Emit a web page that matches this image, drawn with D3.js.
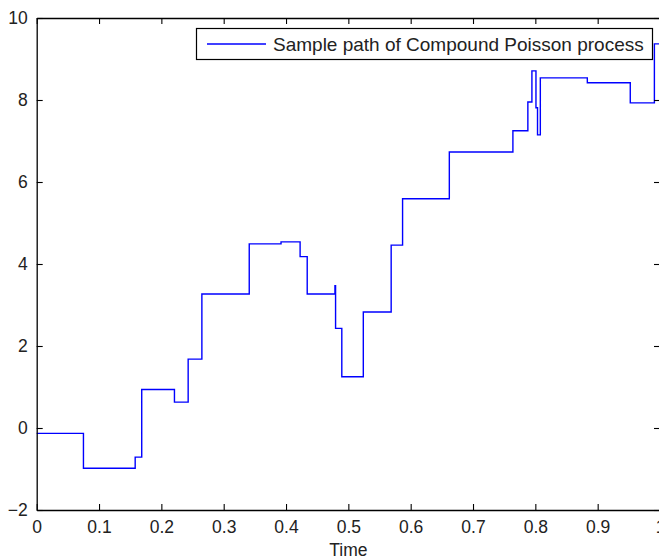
<!DOCTYPE html>
<html>
<head>
<meta charset="utf-8">
<script src="https://cdn.jsdelivr.net/npm/d3@7"></script>
<style>
  body { margin: 0; background: #fff; }
  svg { display: block; font-family: "Liberation Sans", Arial, sans-serif; }
</style>
</head>
<body>
<svg width="659" height="558"></svg>
<script>
// jump times and the level held from each one on
var times = [0, 0.075, 0.158, 0.1685, 0.221, 0.243, 0.265, 0.341, 0.392, 0.4226, 0.434,
  0.4785, 0.4795, 0.4895, 0.524, 0.5687, 0.587, 0.662, 0.764, 0.788, 0.7945, 0.801,
  0.8035, 0.808, 0.8834, 0.9523, 0.991, 1];
var values = [-0.13, -0.98, -0.71, 0.94, 0.63, 1.68, 3.27, 4.49, 4.54, 4.18, 3.27,
  3.47, 2.43, 1.25, 2.83, 4.46, 5.59, 6.73, 7.25, 7.95, 8.71, 7.81,
  7.15, 8.54, 8.42, 7.93, 9.37, 9.37];
var xTicks = [0, 0.1, 0.2, 0.3, 0.4, 0.5, 0.6, 0.7, 0.8, 0.9, 1];
var yTicks = [-2, 0, 2, 4, 6, 8, 10];
var seriesName = "Sample path of Compound Poisson process";

var svg = d3.select("svg");
// note: "top" is taken by window.top, so use plot* names
var plotL = 36.7, plotR = 660, plotT = 18, plotB = 510;

var x = d3.scaleLinear().domain([0, 1]).range([plotL, plotR]);
var y = d3.scaleLinear().domain([-2, 10]).range([plotB, plotT]);

var pts = times.map(function(t, i) { return [t, values[i]]; });

var line = d3.line()
    .x(function(d) { return x(d[0]); })
    .y(function(d) { return y(d[1]); })
    .curve(d3.curveStepAfter);

svg.append("path")
    .datum(pts)
    .attr("fill", "none")
    .attr("stroke", "#0000ff")
    .attr("stroke-width", 1.4)
    .attr("d", line);

// MATLAB style box with inward ticks
var g = svg.append("g");

g.append("g")
    .attr("transform", "translate(0," + plotB + ")")
    .call(d3.axisBottom(x).tickValues(xTicks).tickSizeInner(-6).tickSizeOuter(0)
      .tickPadding(11).tickFormat(d3.format("~g")));
g.append("g")
    .attr("transform", "translate(0," + plotT + ")")
    .call(d3.axisTop(x).tickValues(xTicks).tickSizeInner(-6).tickSizeOuter(0).tickFormat(""));
g.append("g")
    .attr("transform", "translate(" + plotL + ",0)")
    .call(d3.axisLeft(y).tickValues(yTicks).tickSizeInner(-6).tickSizeOuter(0).tickPadding(9));
g.append("g")
    .attr("transform", "translate(" + plotR + ",0)")
    .call(d3.axisRight(y).tickValues(yTicks).tickSizeInner(-6).tickSizeOuter(0).tickFormat(""));

g.selectAll(".domain").attr("stroke", "#000").attr("stroke-width", 1.3);
g.selectAll(".tick line").attr("stroke", "#000").attr("stroke-width", 1.1);
g.selectAll(".tick text")
    .attr("fill", "#222")
    .style("font-size", "17.5px")
    .style("font-family", "'Liberation Sans', Arial, sans-serif");

svg.append("text")
    .attr("x", (plotL + plotR) / 2)
    .attr("y", 556)
    .attr("text-anchor", "middle")
    .attr("fill", "#222")
    .style("font-size", "17.5px")
    .text("Time");

// legend
var leg = svg.append("g");
leg.append("rect")
    .attr("x", 196.5).attr("y", 28.5)
    .attr("width", 456).attr("height", 31)
    .attr("fill", "#fff")
    .attr("stroke", "#000")
    .attr("stroke-width", 1.2);
leg.append("line")
    .attr("x1", 207).attr("x2", 266)
    .attr("y1", 44).attr("y2", 44)
    .attr("stroke", "#0000ff")
    .attr("stroke-width", 1.4);
leg.append("text")
    .attr("x", 273)
    .attr("y", 50.5)
    .attr("fill", "#222")
    .style("font-size", "19px")
    .text(seriesName);
</script>
</body>
</html>
